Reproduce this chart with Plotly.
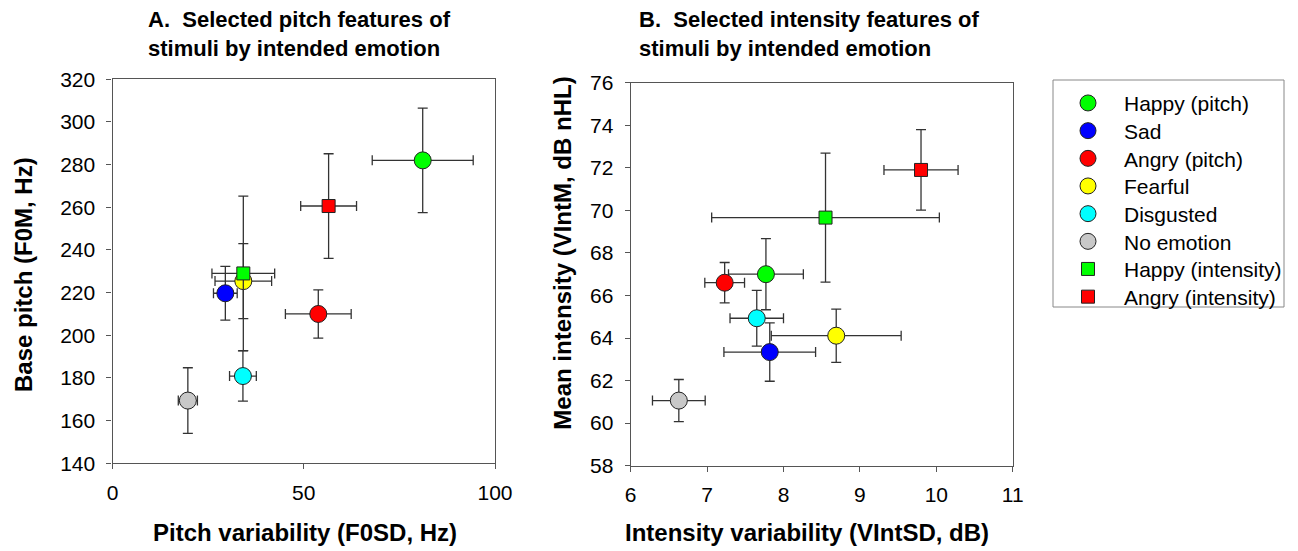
import plotly.graph_objects as go

emotions = ["Happy (pitch)", "Sad", "Angry (pitch)", "Fearful", "Disgusted", "No emotion",
            "Happy (intensity)", "Angry (intensity)"]
colors = ["#00ff00", "#0000ff", "#ff0000", "#ffff00", "#00ffff", "#c8c8c8", "#00ff00", "#ff0000"]
symbols = ["circle", "circle", "circle", "circle", "circle", "circle", "square", "square"]

# Panel A: pitch
pitch_sd = [81.1, 29.5, 53.8, 34.2, 34.1, 19.7, 34.2, 56.5]
pitch_sd_err = [13.2, 3.1, 8.6, 7.4, 3.5, 2.5, 8.2, 7.3]
pitch_mean = [282.0, 219.7, 210.0, 225.4, 180.9, 169.4, 229.0, 260.6]
pitch_mean_err = [24.5, 12.6, 11.3, 17.6, 11.8, 15.4, 36.2, 24.5]

# Panel B: intensity
int_sd = [7.77, 7.82, 7.23, 8.69, 7.65, 6.63, 8.55, 9.80]
int_sd_err = [0.49, 0.60, 0.26, 0.85, 0.35, 0.345, 1.49, 0.485]
int_mean = [67.0, 63.34, 66.6, 64.11, 64.93, 61.06, 69.66, 71.9]
int_mean_err = [1.67, 1.37, 0.95, 1.25, 1.31, 0.99, 3.03, 1.89]

W, H = 1298, 551
FONT = "Liberation Sans, Arial, sans-serif"
ERR = "#333333"

legend_ids = ["legend"] + ["legend%d" % k for k in range(2, 9)]

fig = go.Figure()
order = [3, 0, 1, 2, 4, 5, 6, 7]
for panel, (xs, xe, ys, ye, xa, ya) in enumerate([
        (pitch_sd, pitch_sd_err, pitch_mean, pitch_mean_err, "x", "y"),
        (int_sd, int_sd_err, int_mean, int_mean_err, "x2", "y2")]):
    for i in order:
        fig.add_trace(go.Scatter(
            x=[xs[i]], y=[ys[i]], mode="markers", name=emotions[i],
            legendgroup=emotions[i], showlegend=(panel == 0), legend=legend_ids[i],
            xaxis=xa, yaxis=ya,
            marker=dict(symbol=symbols[i], color=colors[i],
                        size=17 if symbols[i] == "circle" else 13,
                        line=dict(color="#222222", width=1)),
            error_x=dict(type="data", array=[xe[i]], color=ERR, thickness=1.3, width=5),
            error_y=dict(type="data", array=[ye[i]], color=ERR, thickness=1.3, width=5),
        ))

axis_common = dict(showgrid=False, zeroline=False, showline=True, mirror=True, automargin=False,
                   linecolor="#555555", linewidth=1.2, ticks="outside", ticklen=5,
                   tickcolor="#555555", tickfont=dict(family=FONT, size=21, color="#000000"))
xstand = dict(ticklabelstandoff=5)
ystand = dict(ticklabelstandoff=7)

fig.update_layout(
    width=W, height=H, paper_bgcolor="white", plot_bgcolor="white",
    margin=dict(l=0, r=0, t=0, b=0, autoexpand=False),
    xaxis=dict(domain=[112.5 / W, 495 / W], range=[0, 100], tickvals=[0, 50, 100], anchor="y",
               **axis_common, **xstand),
    yaxis=dict(domain=[1 - 463.3 / H, 1 - 79.3 / H], range=[140, 320], dtick=20, anchor="x",
               **axis_common, **ystand),
    xaxis2=dict(domain=[630.7 / W, 1012.7 / W], range=[6, 11], dtick=1, anchor="y2",
                **axis_common, **xstand),
    yaxis2=dict(domain=[1 - 465.7 / H, 1 - 82.7 / H], range=[58, 76], dtick=2, anchor="x2",
                **axis_common, **ystand),
    showlegend=True,
    shapes=[dict(type="rect", xref="paper", yref="paper",
                 x0=1053 / W, x1=1284 / W, y0=1 - 307 / H, y1=1 - 80 / H,
                 line=dict(color="#888888", width=1), fillcolor="rgba(0,0,0,0)", layer="below")],
)

row_y = [103.3, 131.0, 158.7, 186.3, 214.0, 241.7, 269.3, 297.0]
for k, lid in enumerate(legend_ids):
    fig.update_layout({lid: dict(x=1052 / W, y=1 - row_y[k] / H, xanchor="left", yanchor="middle",
                                 borderwidth=0, bgcolor="rgba(0,0,0,0)", itemwidth=62,
                                 font=dict(family=FONT, size=21, color="#000000"),
                                 itemsizing="trace")})

ann = [
    dict(text="<b>A.  Selected pitch features of<br>stimuli by intended emotion</b>",
         x=146 / W, y=1 - 5 / H, xanchor="left", yanchor="top", align="left",
         font=dict(family=FONT, size=22)),
    dict(text="<b>B.  Selected intensity features of<br>stimuli by intended emotion</b>",
         x=637 / W, y=1 - 5 / H, xanchor="left", yanchor="top", align="left",
         font=dict(family=FONT, size=22)),
    dict(text="<b>Pitch variability (F0SD, Hz)</b>", x=305 / W, y=1 - 532 / H,
         xanchor="center", yanchor="middle", font=dict(family=FONT, size=24)),
    dict(text="<b>Intensity variability (VIntSD, dB)</b>", x=806.5 / W, y=1 - 532 / H,
         xanchor="center", yanchor="middle", font=dict(family=FONT, size=24)),
    dict(text="<b>Base pitch (F0M, Hz)</b>", x=23 / W, y=1 - 275 / H, textangle=-90,
         xanchor="center", yanchor="middle", font=dict(family=FONT, size=24)),
    dict(text="<b>Mean intensity (VIntM, dB nHL)</b>", x=561.7 / W, y=1 - 253 / H, textangle=-90,
         xanchor="center", yanchor="middle", font=dict(family=FONT, size=24)),
]
for a in ann:
    a.update(xref="paper", yref="paper", showarrow=False)
    a["font"]["color"] = "#000000"
fig.update_layout(annotations=ann)

# remove the default 8px page margin so the figure fills the window exactly
fig.write_html("out.html", config={"displayModeBar": False},
               post_script="document.body.style.margin='0';")
